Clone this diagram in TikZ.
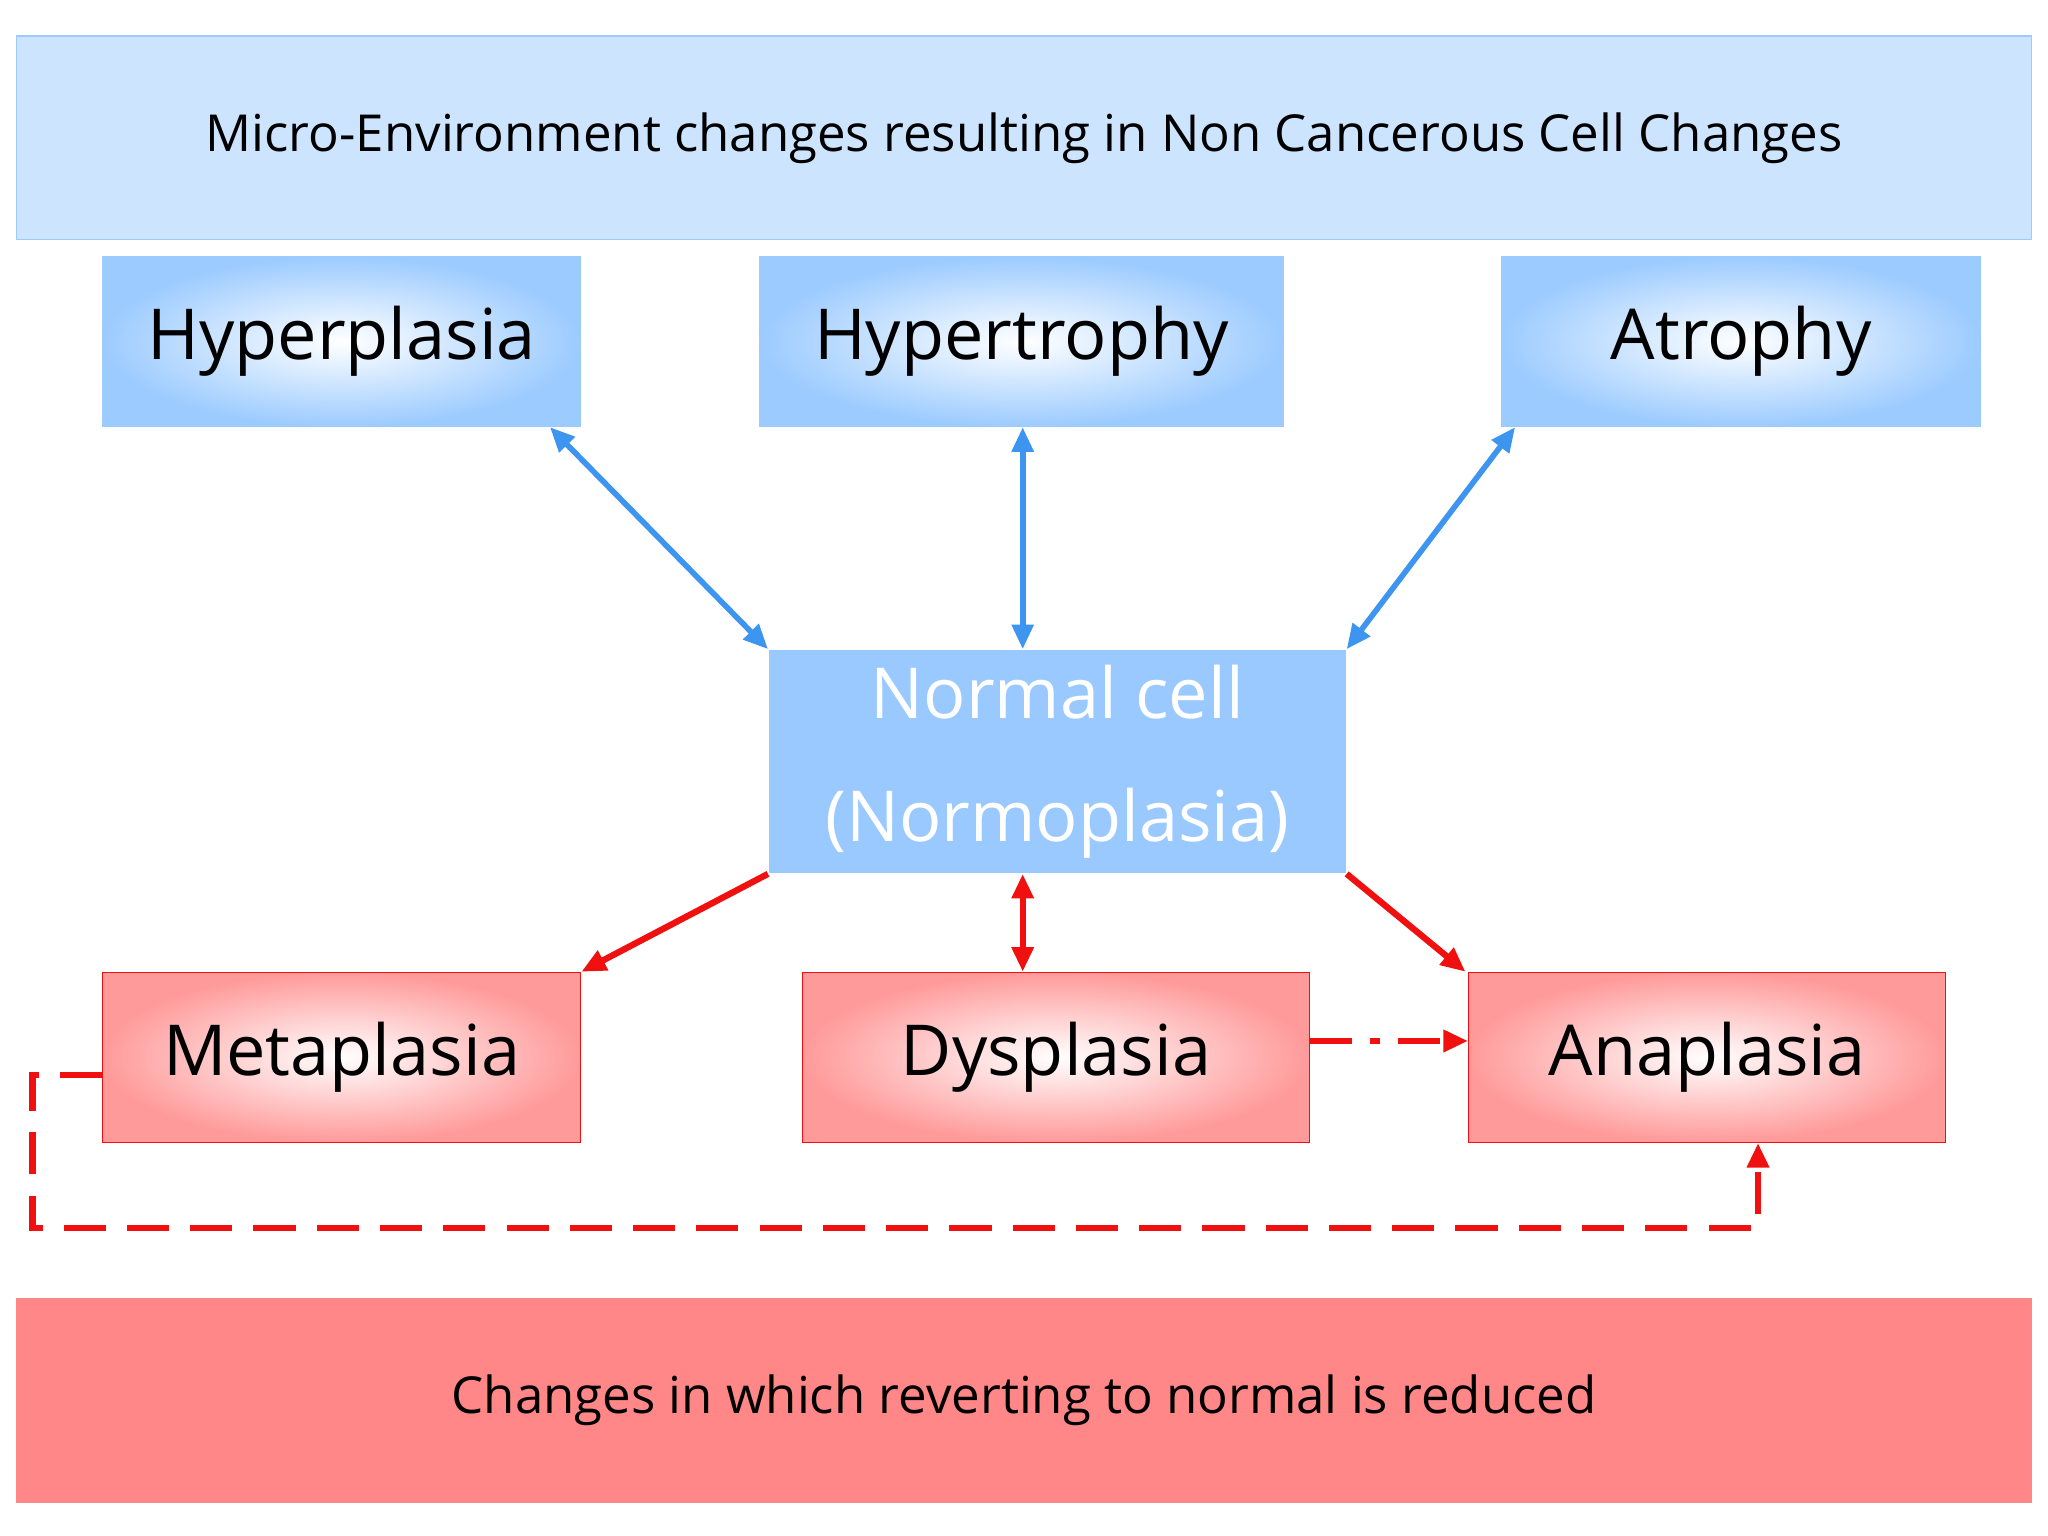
\documentclass[tikz,border=0pt]{standalone}
\usepackage{fontspec}
\setmainfont{Open Sans}
\usetikzlibrary{arrows.meta}
\definecolor{bannerblue}{HTML}{CDE4FF}
\definecolor{boxblue}{HTML}{9CCBFF}
\definecolor{normblue}{HTML}{99C9FF}
\definecolor{boxred}{HTML}{FF9A9A}
\definecolor{bannerred}{HTML}{FF8787}
\definecolor{arrblue}{HTML}{3D95F0}
\definecolor{arrred}{HTML}{F01010}
\tikzset{
  bluebox/.style={inner color=white, outer color=boxblue, draw=boxblue, minimum width=366*0.01306cm, minimum height=130*0.01306cm, font=\fontsize{20}{24}\selectfont, anchor=north west},
  redbox/.style={inner color=white, outer color=boxred, draw=arrred, minimum height=130*0.01306cm, font=\fontsize{20}{24}\selectfont, anchor=north west},
  barrow/.style={draw=arrblue, line width=1.6pt, {Triangle[width=6pt,length=7pt]}-{Triangle[width=6pt,length=7pt]}},
  rarrow/.style={draw=arrred, line width=1.8pt, -{Triangle[width=6pt,length=7pt]}},
  rdarrow/.style={draw=arrred, line width=1.8pt, {Triangle[width=6pt,length=7pt]}-{Triangle[width=6pt,length=7pt]}}
}
\begin{document}
\begin{tikzpicture}[x=0.01306cm, y=-0.01306cm]
\useasboundingbox[fill=white] (0,0) rectangle (1568,1176);
\node[fill=bannerblue, draw=boxblue, minimum width=1543*0.01306cm, minimum height=156*0.01306cm, anchor=north west, font=\fontsize{14.5}{18}\selectfont] (top) at (12,27) {Micro-Environment changes resulting in Non Cancerous Cell Changes};
\node[bluebox] (hyp) at (78,196) {Hyperplasia};
\node[bluebox, minimum width=401*0.01306cm] (hyt) at (581,196) {Hypertrophy};
\node[bluebox, minimum width=367*0.01306cm] (atr) at (1149,196) {Atrophy};
\node[fill=normblue, minimum width=442*0.01306cm, minimum height=171*0.01306cm, anchor=north west, text=white, align=center, font=\fontsize{20}{35}\selectfont] (norm) at (588,497) {Normal cell\\(Normoplasia)};
\node[redbox, minimum width=366*0.01306cm] (met) at (78,744) {Metaplasia};
\node[redbox, minimum width=388*0.01306cm] (dys) at (614,744) {Dysplasia};
\node[redbox, minimum width=365*0.01306cm] (ana) at (1124,744) {Anaplasia};
\node[fill=bannerred, minimum width=1543*0.01306cm, minimum height=157*0.01306cm, anchor=north west, font=\fontsize{14.5}{18}\selectfont] (bot) at (12,993) {Changes in which reverting to normal is reduced};
\draw[barrow] ([xshift=-24*0.01306cm]hyp.south east) -- (norm.north west);
\draw[barrow] (hyt.south -| 783,0) -- (norm.north -| 783,0);
\draw[barrow] ([xshift=11*0.01306cm]atr.south west) -- (norm.north east);
\draw[rarrow] (norm.south west) -- (met.north east);
\draw[rdarrow] (norm.south -| 783,0) -- (dys.north -| 783,0);
\draw[rarrow] (norm.south east) -- ([xshift=-2*0.01306cm]ana.north west);
\draw[rarrow, dash pattern=on 12pt off 5pt on 3pt off 5pt] (dys.east |- 0,797) -- (ana.west |- 0,797);
\coordinate (c1) at (25,823);
\coordinate (c2) at (25,940);
\coordinate (c3) at (1346,940);
\draw[rarrow, dash pattern=on 12pt off 6pt] (met.west |- c1) -- (c1) -- (c2) -- (c3) -- (ana.south -| c3);
\end{tikzpicture}
\end{document}
